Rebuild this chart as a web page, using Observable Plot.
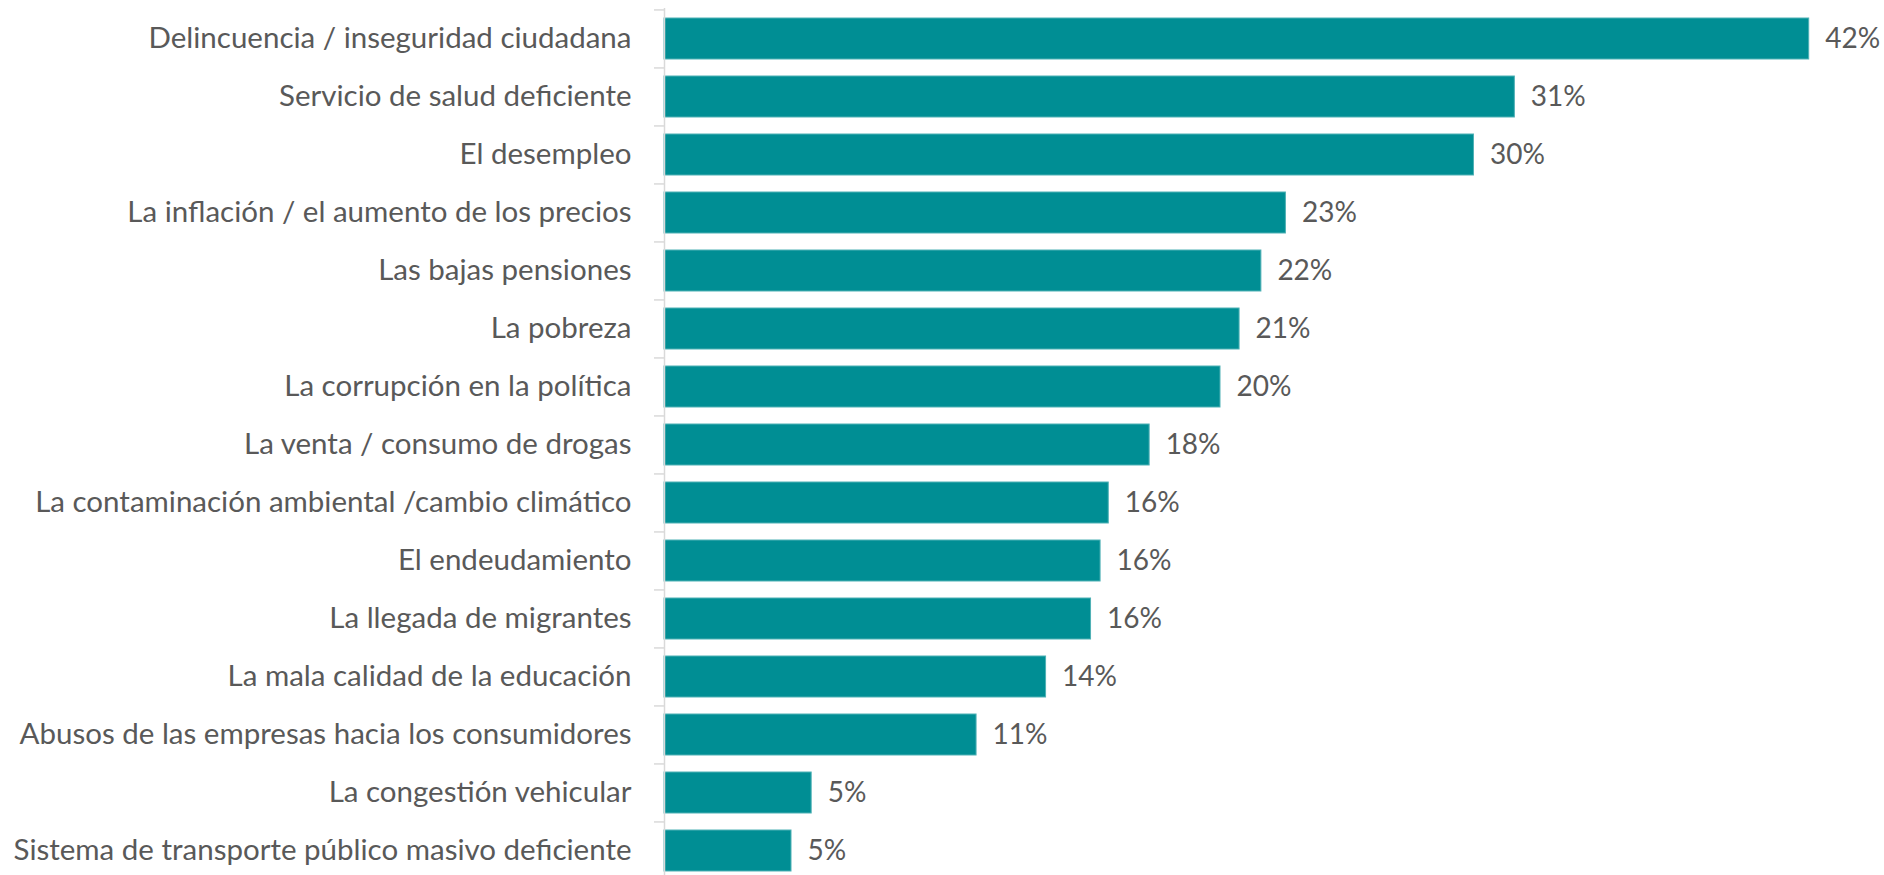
<!DOCTYPE html>
<html>
<head>
<meta charset="utf-8">
<script src="https://cdn.jsdelivr.net/npm/d3@7"></script>
<script src="https://cdn.jsdelivr.net/npm/@observablehq/plot@0.6"></script>
<style>
  html, body { margin: 0; padding: 0; background: #ffffff; }
  #chart svg { display: block; }
</style>
</head>
<body>
<div id="chart"></div>
<script>
const categories = [
  "Delincuencia / inseguridad ciudadana",
  "Servicio de salud deficiente",
  "El desempleo",
  "La inflación / el aumento de los precios",
  "Las bajas pensiones",
  "La pobreza",
  "La corrupción en la política",
  "La venta / consumo de drogas",
  "La contaminación ambiental /cambio climático",
  "El endeudamiento",
  "La llegada de migrantes",
  "La mala calidad de la educación",
  "Abusos de las empresas hacia los consumidores",
  "La congestión vehicular",
  "Sistema de transporte público masivo deficiente"
];
const values = [42.0, 31.2, 29.7, 22.8, 21.9, 21.1, 20.4, 17.8, 16.3, 16.0, 15.65, 14.0, 11.45, 5.4, 4.66];
const valueLabels = ["42%", "31%", "30%", "23%", "22%", "21%", "20%", "18%", "16%", "16%", "16%", "14%", "11%", "5%", "5%"];

const data = categories.map((c, i) => ({cat: c, value: values[i], label: valueLabels[i]}));

const step = (880.4 - 8.3) / categories.length;

const chart = Plot.plot({
  width: 1884,
  height: 875,
  marginLeft: 664,
  marginRight: 0,
  marginTop: 8,
  marginBottom: 0,
  style: {fontFamily: "Lato, 'Open Sans', sans-serif", color: "#595959", background: "#ffffff", overflow: "visible"},
  x: {domain: [0, 42], range: [664, 1808.7], axis: null},
  y: {domain: categories, range: [8.3, 880.4], paddingInner: 0.29, paddingOuter: 0.145, axis: null, label: null},
  marks: [
    Plot.barX(data, {x: "value", y: "cat", fill: "#008e94", stroke: "#4fb1b5", strokeWidth: 1}),
    Plot.ruleX([0], {stroke: "#d9d9d9", strokeWidth: 1.5}),
    Plot.axisY({tickSize: 10, tickFormat: () => "", label: null, dy: -step / 2, stroke: "#d9d9d9", strokeWidth: 1.5}),
    Plot.axisY({tickSize: 0, tickPadding: 33, label: null, fontSize: 29.5, fill: "#595959"}),
    Plot.text(data, {x: "value", y: "cat", text: "label", dx: 16, textAnchor: "start", fontSize: 28, fill: "#595959"})
  ]
});
document.getElementById("chart").appendChild(chart);
</script>
</body>
</html>
